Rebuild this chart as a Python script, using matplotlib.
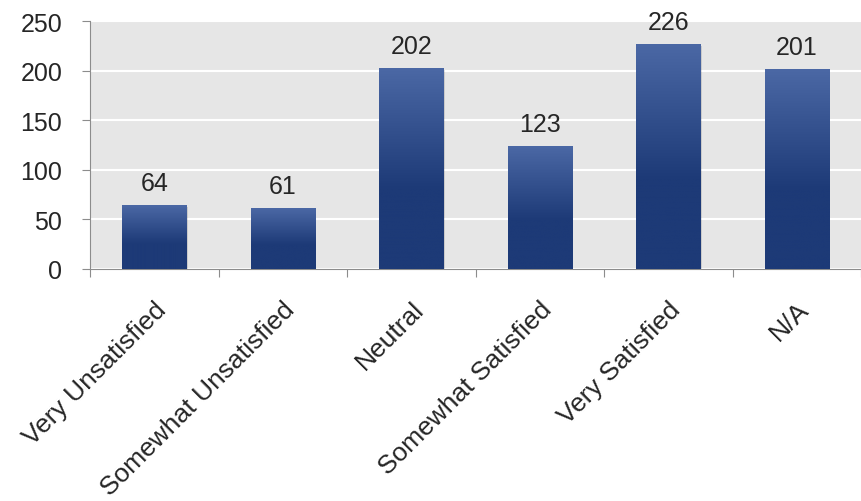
import numpy as np
import matplotlib.pyplot as plt
from matplotlib.colors import LinearSegmentedColormap

# data
categories = ["Very Unsatisfied", "Somewhat Unsatisfied", "Neutral",
              "Somewhat Satisfied", "Very Satisfied", "N/A"]
counts = [64, 61, 202, 123, 226, 201]
y_ticks = [0, 50, 100, 150, 200, 250]

plt.rcParams['font.family'] = ['Liberation Sans', 'DejaVu Sans']
txt_col = '#262626'
fs = 18

fig = plt.figure(figsize=(8.61, 5.02), dpi=100)
ax = fig.add_axes([90 / 861, 1 - 270 / 502, 1 - 90 / 861, 248 / 502])
ax.set_facecolor('#e6e6e6')

x = np.arange(len(categories))
bar_w = 0.5
cmap = LinearSegmentedColormap.from_list('bar', [(0, '#1d3a77'), (0.4, '#1d3a77'), (1, '#4b68a5')])
grad = np.linspace(0, 1, 256).reshape(-1, 1)

bars = ax.bar(x, counts, width=bar_w, color='none', zorder=3)
for b in bars:
    x0, y0 = b.get_x(), b.get_y()
    w, h = b.get_width(), b.get_height()
    # soft shadow
    ax.bar(x0 + w / 2 + 0.012, h, width=w, bottom=-1.5, color='#000000', alpha=0.12, zorder=2)
    ax.imshow(grad, extent=[x0, x0 + w, y0, y0 + h], origin='lower', cmap=cmap,
              aspect='auto', zorder=3)
    ax.text(x0 + w / 2, h + 11, str(int(h)), ha='center', va='bottom',
            fontsize=fs, color=txt_col, zorder=4)

ax.set_xlim(-0.5, 5.406)
ax.set_ylim(0, 250)
ax.set_yticks(y_ticks)
ax.set_yticklabels([str(v) for v in y_ticks], fontsize=fs, color=txt_col)
ax.yaxis.grid(True, color='white', linewidth=1.5, zorder=0)
ax.set_axisbelow(True)

# category boundary ticks
ax.set_xticks(np.arange(-0.5, 6, 1))
ax.set_xticklabels([])
ax.set_xticks(x, minor=True)
ax.set_xticklabels(categories, minor=True, rotation=45, ha='right',
                   rotation_mode='anchor', fontsize=19, color=txt_col)
ax.tick_params(axis='x', which='minor', length=0, pad=20)
ax.tick_params(axis='x', which='major', length=6, color='#8c8c8c')
ax.tick_params(axis='y', length=6, color='#8c8c8c', pad=14)

for s in ['top', 'right']:
    ax.spines[s].set_visible(False)
ax.spines['left'].set_color('#8c8c8c')
ax.spines['bottom'].set_color('#8c8c8c')

plt.savefig("out.png", dpi=100)
